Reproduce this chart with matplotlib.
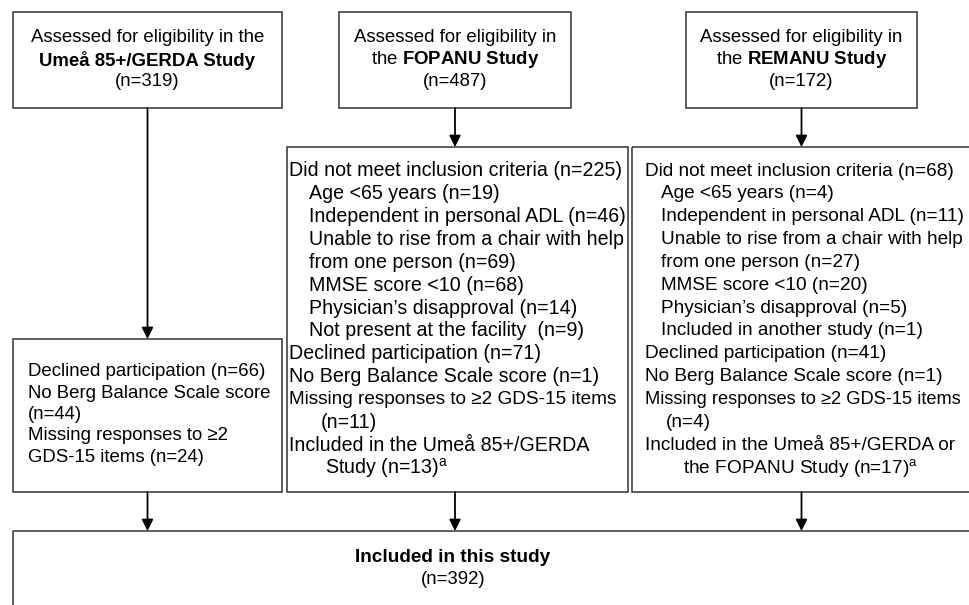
import matplotlib
matplotlib.use("Agg")
import matplotlib.pyplot as plt
from matplotlib.patches import Rectangle

plt.rcParams['font.family'] = ['Liberation Sans', 'DejaVu Sans']
plt.rcParams['mathtext.fontset'] = 'custom'
plt.rcParams['mathtext.rm'] = 'Liberation Sans'
plt.rcParams['mathtext.bf'] = 'Liberation Sans:bold'
plt.rcParams['mathtext.it'] = 'Liberation Sans:italic'

# ---------------- data ----------------
studies = ["Umeå 85+/GERDA", "FOPANU", "REMANU"]
assessed_n = [319, 487, 172]
not_meet_n = [None, 225, 68]
fopanu_reasons = ["Age <65 years", "Independent in personal ADL",
                  "Unable to rise from a chair with help", "MMSE score <10",
                  "Physician’s disapproval", "Not present at the facility "]
fopanu_reason_n = [19, 46, 69, 68, 14, 9]
remanu_reasons = ["Age <65 years", "Independent in personal ADL",
                  "Unable to rise from a chair with help", "MMSE score <10",
                  "Physician’s disapproval", "Included in another study"]
remanu_reason_n = [4, 11, 27, 20, 5, 1]
declined_n = [66, 71, 41]
no_bbs_n = [44, 1, 1]
missing_gds_n = [24, 11, 4]
overlap_n = [None, 13, 17]
included_n = 392

# ---------------- figure ----------------
fig = plt.figure(figsize=(9.69, 6.05), dpi=100)
ax = fig.add_axes([0, 0, 1, 1])
ax.set_xlim(0, 969)
ax.set_ylim(605, 0)
ax.axis('off')

EC = '#333333'
LW = 1.1


def box(x0, y0, x1, y1):
    ax.add_patch(Rectangle((x0, y0), x1 - x0, y1 - y0, fill=False,
                           ec=EC, lw=LW, clip_on=True))


def arrow(x, y0, y1):
    ax.annotate('', xy=(x, y1), xytext=(x, y0),
                arrowprops=dict(arrowstyle='-|>', color='black', lw=1.3,
                                mutation_scale=17, shrinkA=0, shrinkB=0))


FS_TOP = 13.4
FS_MID = 14.1
FS_RIGHT = 13.7

# top boxes
top_boxes = [(13, 282), (339, 571), (686, 917)]
TOP_Y0, TOP_Y1 = 12, 108
sup_a = r"$^{\mathrm{a}}$"
for i, (x0, x1) in enumerate(top_boxes):
    box(x0, TOP_Y0, x1, TOP_Y1)
    cx = (x0 + x1) / 2
    if i == 0:
        ax.text(cx, 38, "Assessed for eligibility in the", ha='center', va='center', fontsize=FS_TOP)
        ax.text(cx, 60, f"{studies[i]} Study", ha='center', va='center',
                fontsize=FS_TOP, fontweight='bold')
    else:
        ax.text(cx, 38, "Assessed for eligibility in", ha='center', va='center', fontsize=FS_TOP)
        ax.text(cx, 60, r"the $\mathbf{" + studies[i] + r"\ Study}$", ha='center',
                va='center', fontsize=FS_TOP)
    ax.text(cx, 82, f"(n={assessed_n[i]})", ha='center', va='center', fontsize=FS_TOP)

# middle boxes
MID_TOP_LEFT = 339
MID_TOP = 147
MID_BOT = 492
box(13, MID_TOP_LEFT, 282, MID_BOT)
box(287, MID_TOP, 628, MID_BOT)
box(632, MID_TOP, 990, MID_BOT)

# arrows from top boxes
arrow(147.5, TOP_Y1, MID_TOP_LEFT)
arrow(455, TOP_Y1, MID_TOP)
arrow(801.5, TOP_Y1, MID_TOP)

# left box text
left_lines = [f"Declined participation (n={declined_n[0]})",
              "No Berg Balance Scale score",
              f"(n={no_bbs_n[0]})",
              "Missing responses to ≥2",
              f"GDS-15 items (n={missing_gds_n[0]})"]
for k, s in enumerate(left_lines):
    ax.text(28, 372 + k * 21.3, s, ha='left', va='center', fontsize=FS_TOP)


def mid_lines(idx, reasons, reason_n, overlap_text):
    lines = [(0, f"Did not meet inclusion criteria (n={not_meet_n[idx]})")]
    for r, n in zip(reasons, reason_n):
        if r.startswith("Unable"):
            lines.append((1, r))
            lines.append((1, f"from one person (n={n})"))
        else:
            lines.append((1, f"{r} (n={n})"))
    lines.append((0, f"Declined participation (n={declined_n[idx]})"))
    lines.append((0, f"No Berg Balance Scale score (n={no_bbs_n[idx]})"))
    lines.append((4, "Missing responses to ≥2 GDS-15 items"))
    lines.append((2, f"(n={missing_gds_n[idx]})"))
    lines.extend(overlap_text)
    return lines


fop = mid_lines(1, fopanu_reasons, fopanu_reason_n,
                [(0, f"Included in the {studies[0]}"),
                 (3, f"Study (n={overlap_n[1]})" + sup_a)])
rem = mid_lines(2, remanu_reasons, remanu_reason_n,
                [(0, f"Included in the {studies[0]} or"),
                 (3, f"the {studies[1]} Study (n={overlap_n[2]})" + sup_a)])

fop_x = {0: 289, 1: 309, 2: 321, 3: 325, 4: 289}
rem_x = {0: 645, 1: 661, 2: 666, 3: 683, 4: 645}
Y0, DY = 171, 22.85
for k, (lvl, s) in enumerate(fop):
    ax.text(fop_x[lvl], Y0 + k * DY, s, ha='left', va='center',
            fontsize=FS_MID - (0.45 if lvl == 4 else 0))
for k, (lvl, s) in enumerate(rem):
    ax.text(rem_x[lvl], Y0 + k * DY, s, ha='left', va='center',
            fontsize=FS_RIGHT - (0.55 if lvl == 4 else 0))

# bottom box
BOT_TOP = 531
box(13, BOT_TOP, 990, 640)
arrow(147.5, MID_BOT, BOT_TOP)
arrow(455, MID_BOT, BOT_TOP)
arrow(801.5, MID_BOT, BOT_TOP)
ax.text(453, 558, "Included in this study", ha='center', va='center',
        fontsize=13.7, fontweight='bold')
ax.text(453, 579, f"(n={included_n})", ha='center', va='center', fontsize=13.4)

fig.savefig("out.png", dpi=100)
